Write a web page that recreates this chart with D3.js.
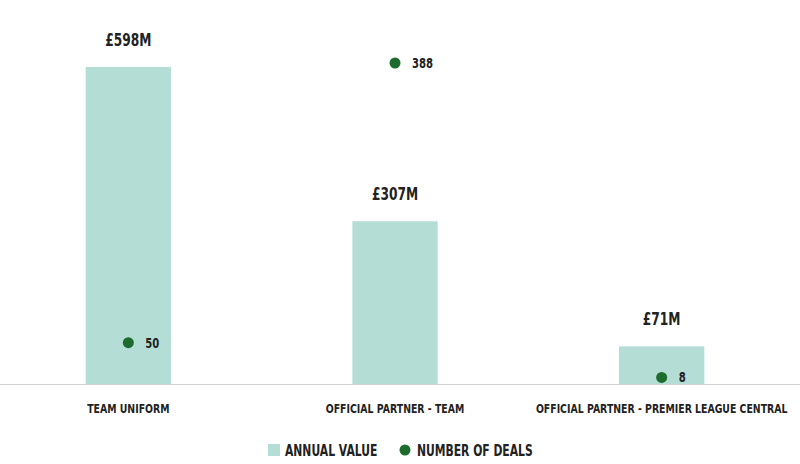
<!DOCTYPE html>
<html>
<head>
<script src="https://d3js.org/d3.v7.min.js"></script>
<style>
  body { margin: 0; background: #fff; }
  text { font-family: "DejaVu Sans", sans-serif; font-weight: bold; fill: #222; }
</style>
</head>
<body>
<div id="chart"></div>
<script>
var categories = ["TEAM UNIFORM", "OFFICIAL PARTNER - TEAM", "OFFICIAL PARTNER - PREMIER LEAGUE CENTRAL"];
var annualValue = [598, 307, 71];
var valueLabels = ["£598M", "£307M", "£71M"];
var numberOfDeals = [50, 388, 8];

var width = 800, height = 464, base = 384;
var squeeze = 0.72;

var svg = d3.select("#chart").append("svg")
  .attr("width", width).attr("height", height);

// narrow text: position via transform, squeeze horizontally
function place(sel, fx, fy) {
  sel.attr("transform", (d, i) => "translate(" + fx(d, i) + "," + fy(d, i) + ") scale(" + squeeze + ",1)");
}

var x = d3.scaleBand().domain(categories).range([-5, 795]).paddingInner(0.68).paddingOuter(0.34);
var yVal = d3.scaleLinear().domain([0, 598]).range([base, 67]);
var yDeals = d3.scaleLinear().domain([0, 388]).range([base, 63]);
var cx = (d, i) => x(categories[i]) + x.bandwidth() / 2;

svg.append("line").attr("x1", 0).attr("x2", width).attr("y1", base + 0.5).attr("y2", base + 0.5)
  .attr("stroke", "#d0d0d0");

svg.selectAll("rect.bar").data(annualValue).enter().append("rect")
  .attr("class", "bar")
  .attr("x", (d, i) => x(categories[i]))
  .attr("width", x.bandwidth())
  .attr("y", d => yVal(d))
  .attr("height", d => base - yVal(d))
  .attr("fill", "#b3ddd5");

svg.selectAll("text.vl").data(annualValue).enter().append("text")
  .attr("class", "vl")
  .attr("text-anchor", "middle")
  .attr("font-size", 17)
  .text((d, i) => valueLabels[i])
  .call(place, cx, d => yVal(d) - 21);

svg.selectAll("circle.deal").data(numberOfDeals).enter().append("circle")
  .attr("class", "deal")
  .attr("cx", cx)
  .attr("cy", d => yDeals(d))
  .attr("r", 5.5)
  .attr("fill", "#1e6b2e");

svg.selectAll("text.dl").data(numberOfDeals).enter().append("text")
  .attr("class", "dl")
  .attr("font-size", 14)
  .text(d => d)
  .call(place, (d, i) => cx(d, i) + 17, d => yDeals(d) + 5);

svg.selectAll("text.cat").data(categories).enter().append("text")
  .attr("class", "cat")
  .attr("text-anchor", "middle")
  .attr("font-size", 13)
  .text(d => d)
  .call(place, (d, i) => cx(d, i), () => 413);

var lg = svg.append("g");
lg.append("rect").attr("x", 268).attr("y", 444).attr("width", 12).attr("height", 12).attr("fill", "#b3ddd5");
lg.append("text").attr("font-size", 15).text("ANNUAL VALUE")
  .attr("transform", "translate(285,456) scale(" + squeeze + ",1)");
lg.append("circle").attr("cx", 405).attr("cy", 450).attr("r", 5.5).attr("fill", "#1e6b2e");
lg.append("text").attr("font-size", 15).text("NUMBER OF DEALS")
  .attr("transform", "translate(417,456) scale(" + squeeze + ",1)");
</script>
</body>
</html>
